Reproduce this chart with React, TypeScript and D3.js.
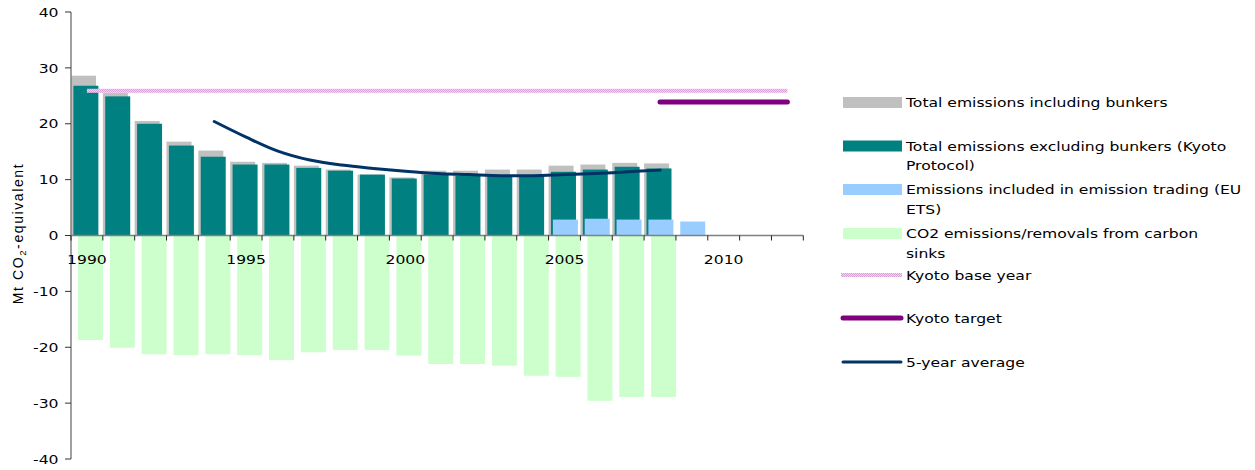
import React from "react";
import * as d3 from "d3";

const years = d3.range(1990, 2013);
const inclBunkers = [28.6, 25.5, 20.5, 16.8, 15.2, 13.2, 13.0, 12.5, 11.8, 10.9, 10.4, 11.6, 11.6, 11.8, 11.8, 12.5, 12.7, 13.0, 12.9];
const exclBunkers = [26.8, 24.9, 20.0, 16.1, 14.1, 12.7, 12.7, 12.1, 11.6, 10.9, 10.2, 10.9, 10.7, 10.7, 10.7, 11.4, 11.8, 12.3, 12.0];
const etsYears = [2005, 2006, 2007, 2008, 2009];
const etsValues = [2.85, 3.0, 2.85, 2.85, 2.5];
const sinks = [-18.7, -20.1, -21.25, -21.4, -21.25, -21.4, -22.3, -20.9, -20.5, -20.5, -21.5, -23.0, -23.0, -23.3, -25.1, -25.3, -29.6, -28.9, -28.9];
const avgYears = d3.range(1994, 2009);
const avgValues = [20.4, 17.6, 15.1, 13.5, 12.6, 12.0, 11.5, 11.1, 10.9, 10.7, 10.7, 10.9, 11.1, 11.4, 11.7];
const kyotoBase = 25.9;
const kyotoBaseYears = [1990, 2012];
const kyotoTarget = 23.9;
const kyotoTargetYears = [2008, 2012];
const yTicks = [-40, -30, -20, -10, 0, 10, 20, 30, 40];
const xLabelYears = [1990, 1995, 2000, 2005, 2010];

const legendItems = [
  { kind: "rect", color: "#C0C0C0", lines: ["Total emissions including bunkers"], y: 102.5 },
  { kind: "rect", color: "#008080", lines: ["Total emissions excluding bunkers (Kyoto", "Protocol)"], y: 146 },
  { kind: "rect", color: "#99CCFF", lines: ["Emissions included in emission trading (EU", "ETS)"], y: 189.5 },
  { kind: "rect", color: "#CCFFCC", lines: ["CO2 emissions/removals from carbon", "sinks"], y: 233.5 },
  { kind: "base", color: "#E0B0E0", lines: ["Kyoto base year"], y: 275 },
  { kind: "target", color: "#800080", lines: ["Kyoto target"], y: 318 },
  { kind: "avg", color: "#003366", lines: ["5-year average"], y: 362 },
];

const font = "'DejaVu Sans', Verdana, sans-serif";
const SX = 1.2;

function Txt(props: { x: number; y: number; anchor?: "start" | "middle" | "end"; dy?: string; size?: number; children: React.ReactNode }) {
  const { x, y, anchor = "start", dy, size = 13, children } = props;
  return (
    <text
      transform={`translate(${x},${y}) scale(${SX},1)`}
      textAnchor={anchor}
      dy={dy}
      fontFamily={font}
      fontSize={size}
      fill="#000"
    >
      {children}
    </text>
  );
}

export default function App() {
  const W = 1255, H = 470;
  const x = d3.scaleBand<number>().domain(years).range([71, 803.3]).padding(0);
  const y = d3.scaleLinear().domain([-40, 40]).range([459, 12]);
  const bw = x.bandwidth();
  const barW = bw * 0.785;
  const cx = (yr: number) => (x(yr) as number) + bw / 2;

  const avgLine = d3
    .line<number>()
    .x((_, i) => cx(avgYears[i]))
    .y((v) => y(v))
    .curve(d3.curveCatmullRom.alpha(0.5));

  const rectFor = (yr: number, v: number, off: number) => {
    const x0 = (x(yr) as number) + off;
    const y0 = Math.min(y(v), y(0));
    const h = Math.abs(y(v) - y(0));
    return { x: x0, y: y0, width: barW, height: h };
  };

  return (
    <div style={{ position: "absolute", left: 0, top: 0 }}>
      <svg width={W} height={H} style={{ display: "block", background: "#fff" }}>
        <defs>
          <pattern id="kb" width="2" height="2" patternUnits="userSpaceOnUse">
            <rect width="2" height="2" fill="#F0D6F0" />
            <rect width="1" height="1" fill="#D69FD6" />
            <rect x="1" y="1" width="1" height="1" fill="#D69FD6" />
          </pattern>
        </defs>

        {inclBunkers.map((v, i) => (
          <rect key={"g" + i} {...rectFor(years[i], v, 0)} fill="#C0C0C0" />
        ))}
        {exclBunkers.map((v, i) => (
          <rect key={"t" + i} {...rectFor(years[i], v, bw * 0.075)} fill="#008080" />
        ))}
        {etsValues.map((v, i) => (
          <rect key={"b" + i} {...rectFor(etsYears[i], v, bw * 0.135)} fill="#99CCFF" />
        ))}
        {sinks.map((v, i) => (
          <rect key={"s" + i} {...rectFor(years[i], v, bw * 0.22)} fill="#CCFFCC" />
        ))}

        <rect
          x={cx(kyotoBaseYears[0])}
          y={y(kyotoBase) - 2}
          width={cx(kyotoBaseYears[1]) - cx(kyotoBaseYears[0])}
          height={4}
          fill="url(#kb)"
        />
        <line
          x1={cx(kyotoTargetYears[0])}
          x2={cx(kyotoTargetYears[1])}
          y1={y(kyotoTarget)}
          y2={y(kyotoTarget)}
          stroke="#800080"
          strokeWidth={5}
          strokeLinecap="round"
        />
        <path d={avgLine(avgValues) || ""} fill="none" stroke="#003366" strokeWidth={3} strokeLinecap="round" />

        <line x1={71} x2={71} y1={y(40)} y2={y(-40)} stroke="#808080" strokeWidth={1.5} />
        {yTicks.map((t) => (
          <g key={"yt" + t}>
            <line x1={65} x2={71} y1={y(t)} y2={y(t)} stroke="#333" strokeWidth={1} />
            <Txt x={58.5} y={y(t)} dy="0.36em" anchor="end">
              {t}
            </Txt>
          </g>
        ))}
        <line x1={71} x2={803.3} y1={y(0)} y2={y(0)} stroke="#808080" strokeWidth={1.5} />
        {years.concat([2013]).map((yr, i) => {
          const xx = i < years.length ? (x(yr) as number) : 803.3;
          return <line key={"xt" + yr} x1={xx} x2={xx} y1={y(0)} y2={y(0) + 5} stroke="#222" strokeWidth={1} />;
        })}
        {xLabelYears.map((yr) => (
          <Txt key={"xl" + yr} x={cx(yr)} y={264} anchor="middle">
            {yr}
          </Txt>
        ))}

        <text
          transform={`translate(23, ${y(0) - 2}) rotate(-90)`}
          textAnchor="middle"
          fontFamily="'Liberation Sans', Arial, sans-serif"
          fontSize={14}
          letterSpacing={1.6}
          fill="#000"
        >
          Mt CO<tspan fontSize={9.5} dy={3}>2</tspan>
          <tspan dy={-3}>-equivalent</tspan>
        </text>

        {legendItems.map((it, i) => (
          <g key={"lg" + i}>
            {it.kind === "rect" && <rect x={843} y={it.y - 5.5} width={59} height={11} fill={it.color} />}
            {it.kind === "base" && <rect x={841} y={it.y - 2} width={61} height={4} fill="url(#kb)" />}
            {it.kind === "target" && (
              <line x1={843} x2={901} y1={it.y} y2={it.y} stroke={it.color} strokeWidth={5} strokeLinecap="round" />
            )}
            {it.kind === "avg" && (
              <line x1={843} x2={901} y1={it.y} y2={it.y} stroke={it.color} strokeWidth={3} strokeLinecap="round" />
            )}
            {it.lines.map((ln, j) => (
              <Txt key={j} x={906} y={it.y + j * 19.5} dy="0.36em">
                {ln}
              </Txt>
            ))}
          </g>
        ))}
      </svg>
    </div>
  );
}
